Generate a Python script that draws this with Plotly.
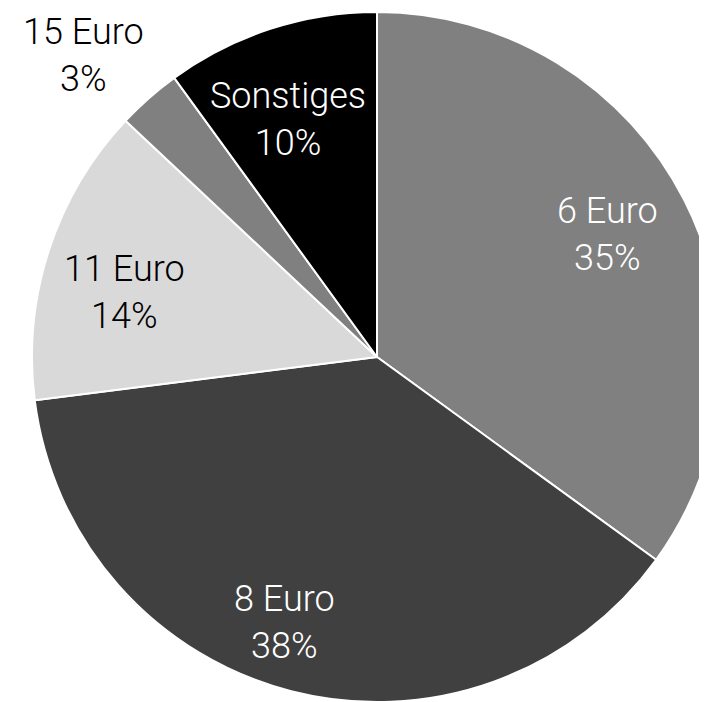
import math
import plotly.graph_objects as go

labels = ["6 Euro", "8 Euro", "11 Euro", "15 Euro", "Sonstiges"]
values = [35, 38, 14, 3, 10]
colors = ["#808080", "#404040", "#d9d9d9", "#808080", "#000000"]
text_colors = ["white", "white", "black", "black", "white"]
# label placement: distance from the centre (share of the radius)
# and a small turn away from the slice's middle angle (degrees)
label_radius = [0.756, 0.815, 0.757, 1.22, 0.734]
label_turn = [-1.0, 4.7, -3.6, -2.9, -2.6]

fig = go.Figure(
    go.Pie(
        labels=labels,
        values=values,
        sort=False,
        direction="clockwise",
        rotation=0,
        marker=dict(colors=colors, line=dict(color="white", width=2)),
        textinfo="none",
        hoverinfo="label+percent",
        domain=dict(x=[0, 1], y=[0, 1]),
    )
)

total = sum(values)
cum = 0
for lab, val, col, rf, turn in zip(labels, values, text_colors, label_radius, label_turn):
    mid = (cum + val / 2) / total * 2 * math.pi + math.radians(turn)
    cum += val
    fig.add_annotation(
        x=0.5 + 0.5 * rf * math.sin(mid),
        y=0.5 + 0.5 * rf * math.cos(mid),
        xref="paper",
        yref="paper",
        text=f"{lab}<br>{round(val / total * 100)}%",
        showarrow=False,
        xanchor="center",
        yanchor="middle",
        font=dict(family="Roboto", size=36, color=col, weight=300),
    )

fig.update_layout(
    width=754,
    height=702,
    margin=dict(l=24, r=40, t=4, b=8),
    showlegend=False,
    paper_bgcolor="white",
)

fig.write_html("out.html")
